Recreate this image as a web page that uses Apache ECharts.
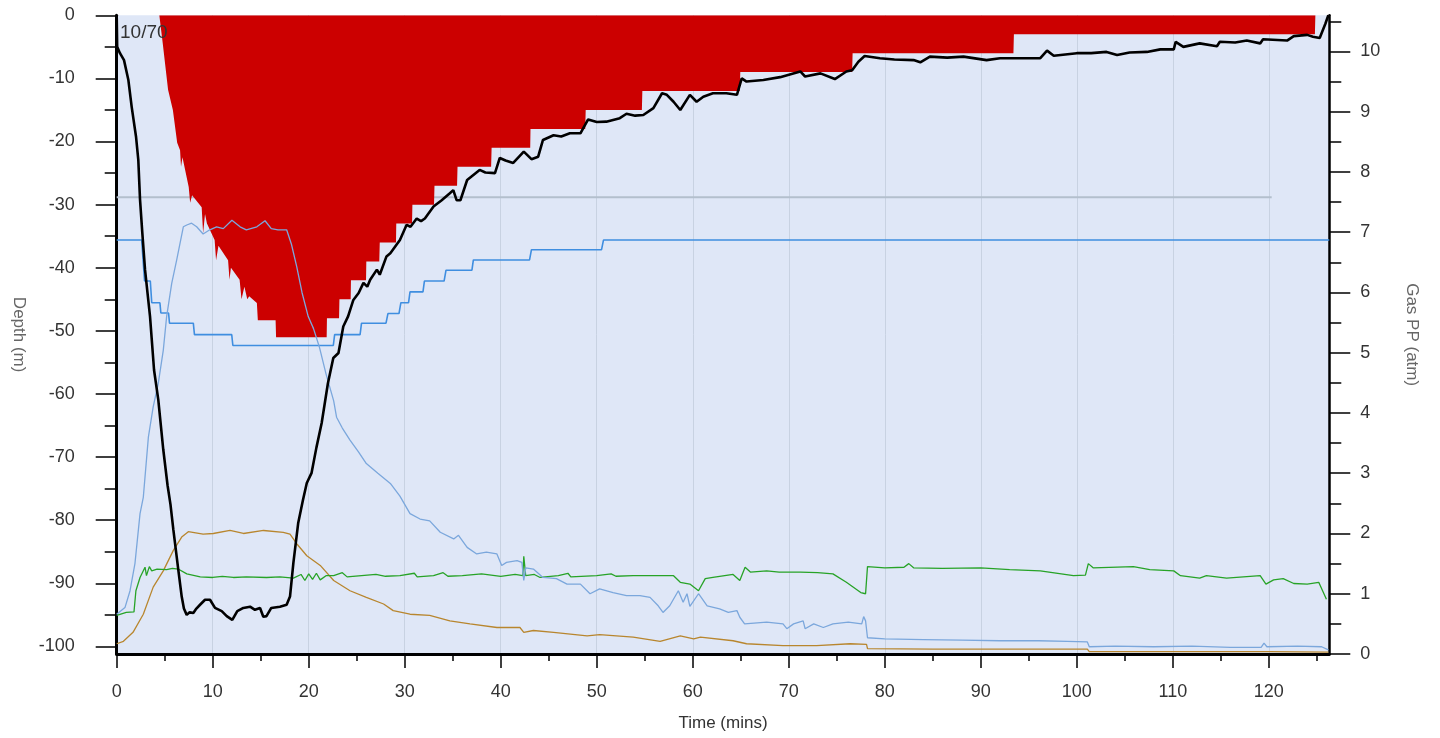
<!DOCTYPE html>
<html>
<head>
<meta charset="utf-8">
<script src="https://cdn.jsdelivr.net/npm/echarts@6/dist/echarts.min.js"></script>
<style>
html,body{margin:0;padding:0;background:#fff;}
#chart{width:1440px;height:738px;}
</style>
</head>
<body>
<div id="chart"></div>
<script>
// ---------- data (time in minutes) ----------
var depthData = [[0,0],[0.05,-5.0],[0.34,-6.0],[0.76,-7.1],[1.21,-10.2],[1.56,-14.5],[2.01,-19.2],[2.25,-22.9],[2.43,-29.2],[2.67,-34.5],[2.95,-40.3],[3.47,-47.7],[3.89,-56.2],[4.33,-60.9],[4.85,-68.8],[5.3,-74.5],[5.6,-77.5],[5.9,-81.5],[6.42,-87.9],[6.77,-92.1],[7.0,-94.0],[7.29,-95],[7.6,-94.6],[7.98,-94.7],[8.3,-94.0],[8.68,-93.4],[9.2,-92.6],[9.72,-92.6],[10.24,-93.9],[10.94,-94.4],[11.46,-95.2],[12.04,-95.8],[12.56,-94.4],[13.19,-93.9],[13.89,-93.7],[14.4,-94.2],[14.93,-93.9],[15.27,-95.3],[15.6,-95.2],[16.1,-93.9],[17.0,-93.7],[17.7,-93.4],[18.05,-92.1],[18.4,-86.8],[18.9,-80.5],[19.4,-76.8],[19.8,-74.1],[20.3,-72.5],[20.8,-68.5],[21.35,-64.6],[22.0,-58.3],[22.56,-54.3],[23.1,-53.5],[23.6,-49.3],[24.1,-47.7],[24.65,-45.1],[25.2,-44.0],[25.7,-42.4],[26.1,-43],[26.4,-41.9],[27.1,-40.3],[27.4,-41.1],[28.1,-38.2],[28.5,-37.7],[29.5,-35.6],[30.2,-33.2],[30.6,-33.5],[31.25,-32.2],[31.7,-32.6],[32.1,-32.2],[33,-30.3],[33.85,-29.3],[34.7,-28.2],[35.06,-27.7],[35.4,-29.3],[35.8,-29.3],[36.5,-26.1],[37.8,-24.5],[38.4,-24.9],[39.4,-25.0],[39.9,-22.6],[40.5,-23.0],[41.3,-23.4],[42.4,-21.6],[43.2,-22.8],[43.9,-22.4],[44.4,-19.75],[45.5,-19.0],[46.3,-19.2],[47.2,-18.7],[48.3,-18.7],[49.1,-16.5],[50.0,-16.9],[51.0,-16.85],[52.4,-16.3],[53.1,-15.6],[54.0,-15.9],[54.85,-15.8],[55.9,-14.7],[56.8,-12.35],[57.3,-12.6],[58.0,-13.7],[58.7,-15.0],[59.7,-12.6],[60.4,-13.7],[61.1,-12.9],[62.1,-12.35],[63.5,-12.35],[64.6,-12.6],[65.1,-10.0],[65.6,-10.5],[67.35,-10.25],[69.1,-9.8],[71.2,-8.9],[71.7,-9.7],[73.3,-9.2],[74.8,-10.1],[76.0,-8.9],[76.6,-8.7],[77.25,-7.35],[77.9,-6.45],[79.5,-6.8],[81,-7.0],[83,-7.1],[83.7,-7.45],[84.7,-6.55],[86.5,-6.7],[88.2,-6.55],[90.6,-7.1],[92,-6.8],[93.4,-6.8],[96.2,-6.8],[96.9,-5.6],[97.6,-6.4],[100,-6.0],[101.5,-6.0],[103.1,-5.8],[104.2,-6.3],[105.5,-5.9],[107.3,-5.8],[108.7,-5.4],[110.1,-5.4],[110.3,-4.2],[111.1,-5.0],[112.8,-4.45],[114.6,-4.9],[114.9,-4.2],[116.5,-4.3],[117.7,-4.0],[119.1,-4.45],[119.4,-3.8],[121.9,-4.0],[122.6,-3.3],[124.0,-3.1],[124.6,-3.4],[125.3,-3.6],[125.9,-1.3],[126.2,0]];

var ceilingData = [[0,0],[4.44,0],[4.8,-4.5],[5.35,-11.8],[5.85,-15],[6.3,-20.2],[6.6,-21.4],[6.7,-24],[6.85,-22.5],[7.5,-27.2],[7.65,-29.7],[7.85,-28.5],[8.85,-30.4],[9.0,-34.5],[9.2,-31.5],[9.4,-33],[10.2,-35.6],[10.35,-38.8],[10.6,-36.5],[11.6,-38.8],[11.75,-41.9],[11.9,-40],[12.8,-41.9],[13.0,-45],[13.3,-43],[13.6,-45],[13.8,-44.5],[14.6,-45.6],[14.7,-48.3],[16.55,-48.3],[16.6,-51],[21.87,-51],[21.9,-48],[23.16,-48],[23.2,-45],[24.37,-45],[24.4,-42],[25.97,-42],[26.0,-39],[27.35,-39],[27.4,-36],[29.09,-36],[29.12,-33],[30.76,-33],[30.8,-30],[33.05,-30],[33.1,-27],[35.45,-27],[35.5,-24],[39.0,-24],[39.05,-21],[43.07,-21],[43.1,-18],[48.8,-18],[48.85,-15],[54.7,-15],[54.75,-12],[64.9,-12],[64.95,-9],[76.6,-9],[76.65,-6],[93.4,-6],[93.45,-3],[124.8,-3],[124.85,0],[126.3,0]];

var ppLightBlue = [[0,0.66],[0.86,0.77],[1.39,1.05],[1.9,1.5],[2.43,2.33],[2.77,2.6],[3.3,3.6],[3.8,4.1],[4.33,4.49],[4.85,5.04],[5.2,5.6],[5.73,6.15],[6.25,6.54],[6.6,6.82],[6.94,7.09],[7.3,7.12],[7.8,7.15],[8.33,7.09],[9.0,6.97],[9.7,7.04],[10.4,7.09],[11.1,7.06],[12.0,7.2],[12.85,7.09],[13.5,7.04],[14.6,7.09],[15.45,7.19],[16.1,7.06],[16.8,7.04],[17.7,7.04],[18.2,6.8],[18.75,6.43],[19.3,6.0],[19.95,5.6],[20.5,5.4],[21.1,5.1],[21.8,4.65],[22.6,4.2],[22.9,3.93],[23.5,3.75],[24.3,3.55],[25.2,3.35],[26.0,3.16],[27.2,3.0],[28.5,2.83],[29.5,2.62],[30.55,2.33],[31.6,2.24],[32.6,2.21],[33.7,2.02],[35.1,1.91],[35.6,1.97],[36.5,1.77],[37.5,1.66],[38.5,1.69],[39.6,1.66],[40.1,1.47],[40.6,1.52],[41.7,1.55],[42.2,1.52],[42.4,1.22],[42.6,1.43],[43.4,1.41],[44.4,1.27],[45.8,1.25],[46.9,1.16],[48.3,1.16],[49.3,1.0],[50.3,1.08],[51.7,1.02],[53.1,0.97],[54.5,0.97],[55.55,0.94],[56.4,0.8],[56.9,0.69],[57.6,0.8],[58.5,1.05],[59.0,0.86],[59.4,1.0],[59.7,0.79],[60.6,1.0],[61.5,0.8],[62.8,0.75],[63.7,0.69],[64.6,0.72],[64.9,0.61],[65.4,0.5],[67.7,0.53],[69.4,0.5],[69.8,0.42],[70.5,0.5],[71.5,0.55],[71.7,0.42],[72.6,0.5],[73.6,0.44],[74.6,0.5],[76.2,0.53],[77.6,0.5],[77.8,0.62],[78.0,0.55],[78.2,0.27],[80,0.25],[84,0.24],[88,0.23],[92,0.22],[96,0.22],[99,0.21],[101.1,0.2],[101.3,0.12],[104,0.13],[108,0.12],[112,0.13],[116,0.11],[119.2,0.11],[119.5,0.18],[119.8,0.12],[123,0.13],[125.5,0.12],[126.2,0.07]];

var ppGreen = [[0,0.64],[1.0,0.69],[1.8,0.7],[2.0,1.05],[2.43,1.27],[2.95,1.44],[3.1,1.3],[3.4,1.45],[3.65,1.38],[4.2,1.41],[5.2,1.4],[5.8,1.42],[6.4,1.41],[7.3,1.33],[8.7,1.28],[10,1.27],[11,1.29],[12.15,1.27],[13.5,1.28],[15.6,1.27],[17,1.28],[18.4,1.26],[19.2,1.32],[19.6,1.22],[20.0,1.33],[20.4,1.24],[20.8,1.34],[21.2,1.23],[21.8,1.3],[22.6,1.30],[23.5,1.35],[24.0,1.28],[25.5,1.30],[27,1.32],[28,1.29],[29.5,1.30],[31,1.34],[31.3,1.28],[33,1.30],[34,1.35],[34.5,1.29],[36,1.3],[38,1.33],[40,1.29],[41.5,1.32],[42.3,1.3],[42.4,1.62],[42.6,1.3],[43.5,1.32],[44.1,1.27],[46,1.30],[47,1.34],[47.3,1.28],[50,1.30],[51.5,1.33],[52,1.29],[53.8,1.3],[56,1.3],[58,1.3],[58.7,1.19],[59.7,1.16],[60.6,1.05],[61.3,1.25],[62.1,1.27],[64.2,1.32],[64.9,1.22],[65.45,1.44],[66,1.36],[67.7,1.38],[69,1.36],[71.2,1.36],[73,1.35],[74.6,1.33],[76.0,1.19],[77.5,1.02],[78.0,1.0],[78.2,1.45],[80,1.43],[82,1.44],[82.5,1.5],[83,1.43],[86,1.42],[90,1.43],[93,1.40],[96.2,1.38],[99.65,1.3],[100.9,1.31],[101.2,1.5],[101.7,1.43],[105.9,1.45],[107.6,1.4],[110.1,1.38],[110.8,1.30],[112.8,1.26],[113.5,1.30],[115.6,1.26],[119.1,1.30],[119.7,1.16],[120.5,1.23],[121.5,1.25],[122.6,1.17],[124.0,1.16],[125.2,1.19],[126.0,0.91]];

var ppBrown = [[0,0.17],[0.7,0.21],[1.7,0.36],[2.77,0.66],[3.8,1.11],[4.85,1.38],[5.9,1.72],[6.77,1.94],[7.46,2.03],[9.0,1.99],[10.06,2.0],[11.8,2.05],[13.2,2.0],[15.3,2.05],[17.35,2.02],[18.05,1.99],[18.75,1.83],[19.8,1.63],[21.2,1.47],[22.6,1.22],[24.3,1.05],[26.0,0.94],[27.8,0.83],[28.8,0.72],[30.55,0.66],[32.6,0.64],[34.7,0.55],[36.8,0.5],[39.6,0.44],[42,0.44],[42.4,0.36],[43.4,0.39],[45.5,0.36],[49,0.3],[50.3,0.32],[53.8,0.28],[56.6,0.21],[58.7,0.3],[60.1,0.25],[60.8,0.28],[64.2,0.22],[65.6,0.17],[69.4,0.14],[72.9,0.14],[76.4,0.17],[78.1,0.16],[78.2,0.09],[85,0.08],[95,0.08],[101.1,0.08],[101.3,0.04],[110,0.04],[120,0.04],[126.2,0.03]];

var ppStep = [[0,6.87],[2.6,6.87],[2.9,6.19],[3.5,6.19],[3.65,5.83],[4.5,5.83],[4.6,5.66],[5.4,5.66],[5.5,5.49],[7.98,5.49],[8.1,5.30],[11.98,5.30],[12.1,5.12],[22.56,5.12],[22.7,5.30],[25.35,5.30],[25.5,5.49],[28.05,5.49],[28.25,5.65],[29.4,5.65],[29.6,5.83],[30.4,5.83],[30.55,6.01],[31.9,6.01],[32.05,6.19],[34.1,6.19],[34.3,6.37],[37.0,6.37],[37.15,6.54],[43.0,6.54],[43.2,6.71],[50.5,6.71],[50.7,6.87],[126.3,6.87]];

var refLine = [[0,7.58],[120.3,7.58]];

// ---------- ticks ----------
var timeTicks = [0,10,20,30,40,50,60,70,80,90,100,110,120];
var timeMinorTicks = [5,15,25,35,45,55,65,75,85,95,105,115,125];
var depthTicks = [-100,-90,-80,-70,-60,-50,-40,-30,-20,-10,0];
var depthMinorTicks = [-95,-85,-75,-65,-55,-45,-35,-25,-15,-5];
var gasTicks = [0,1,2,3,4,5,6,7,8,9,10];
var gasMinorTicks = [0.5,1.5,2.5,3.5,4.5,5.5,6.5,7.5,8.5,9.5,10.5];

var FONT = 'Liberation Sans, Arial, sans-serif';
var TMAX = 126.3, DMIN = -101.2, GMAX = 10.6;

var chart = echarts.init(document.getElementById('chart'), null, {renderer: 'canvas'});

function lineSeries(name, data, yIdx, color, width, z) {
  return {
    name: name, type: 'line', data: data, xAxisIndex: 0, yAxisIndex: yIdx,
    showSymbol: false, symbol: 'none', silent: true, z: z,
    lineStyle: {color: color, width: width}
  };
}
var gridRect = {left: 116.7, right: 110.7, top: 15.3, bottom: 84, containLabel: false, outerBoundsMode: 'none'};
function minorAxis(base, extra) {
  var a = {
    type: 'value', gridIndex: 1,
    axisLine: {show: false, onZero: false},
    axisLabel: {show: false}, splitLine: {show: false}
  };
  for (var k in base) a[k] = base[k];
  a.axisTick = {show: true, length: extra.length, customValues: extra.values, lineStyle: {color: '#000', width: 1.5}};
  return a;
}

var option = {
  animation: false,
  textStyle: {fontFamily: FONT},
  title: {
    text: '10/70', left: 120, top: 23, padding: 0,
    textStyle: {fontFamily: FONT, fontSize: 19, fontWeight: 'normal', color: '#333'}
  },
  grid: [
    Object.assign({show: true, backgroundColor: '#dfe7f7', borderWidth: 0}, gridRect),
    Object.assign({show: false}, gridRect)
  ],
  xAxis: [
    {
      type: 'value', gridIndex: 0, position: 'bottom', min: 0, max: TMAX, interval: 10,
      name: 'Time (mins)', nameLocation: 'middle', nameGap: 61,
      nameTextStyle: {fontFamily: FONT, fontSize: 17, color: '#333'},
      axisLine: {show: true, onZero: false, lineStyle: {color: '#000', width: 3}},
      axisTick: {show: true, length: 14, customValues: timeTicks, lineStyle: {color: '#000', width: 1.5}},
      axisLabel: {show: true, customValues: timeTicks, margin: 29, fontSize: 18, color: '#333', fontFamily: FONT},
      splitLine: {show: true, lineStyle: {color: '#c8d2e2', width: 1}}
    },
    minorAxis({position: 'bottom', min: 0, max: TMAX}, {length: 7, values: timeMinorTicks})
  ],
  yAxis: [
    {
      type: 'value', gridIndex: 0, position: 'left', min: DMIN, max: 0,
      name: 'Depth (m)', nameLocation: 'middle', nameGap: 90, nameRotate: -90,
      nameTextStyle: {fontFamily: FONT, fontSize: 17, color: '#666'},
      axisLine: {show: true, onZero: false, lineStyle: {color: '#000', width: 3}},
      axisTick: {show: true, length: 21, customValues: depthTicks, lineStyle: {color: '#000', width: 1.5}},
      axisLabel: {show: true, customValues: depthTicks, margin: 42, fontSize: 18, color: '#333', fontFamily: FONT},
      splitLine: {show: false}
    },
    {
      type: 'value', gridIndex: 0, position: 'right', min: 0, max: GMAX,
      name: 'Gas PP (atm)', nameLocation: 'middle', nameGap: 74, nameRotate: -90,
      nameTextStyle: {fontFamily: FONT, fontSize: 17, color: '#666'},
      axisLine: {show: true, onZero: false, lineStyle: {color: '#000', width: 2.5}},
      axisTick: {show: true, length: 21, customValues: gasTicks, lineStyle: {color: '#000', width: 1.5}},
      axisLabel: {show: true, customValues: gasTicks, margin: 31, fontSize: 18, color: '#333', fontFamily: FONT},
      splitLine: {show: false}
    },
    minorAxis({position: 'left', min: DMIN, max: 0}, {length: 12, values: depthMinorTicks}),
    minorAxis({position: 'right', min: 0, max: GMAX}, {length: 12, values: gasMinorTicks})
  ],
  series: [
    lineSeries('Reference', refLine, 1, '#b3bfcd', 2, 1),
    {
      name: 'Ceiling', type: 'line', data: ceilingData, xAxisIndex: 0, yAxisIndex: 0,
      showSymbol: false, symbol: 'none', silent: true, z: 2,
      lineStyle: {width: 0, color: '#cc0000'},
      areaStyle: {color: '#cc0000', opacity: 1, origin: 'end'}
    },
    lineSeries('Step', ppStep, 1, '#3f8ee0', 1.6, 3),
    lineSeries('Brown', ppBrown, 1, '#b8862e', 1.3, 4),
    lineSeries('Green', ppGreen, 1, '#27a327', 1.3, 5),
    lineSeries('LightBlue', ppLightBlue, 1, '#7ba7dc', 1.3, 6),
    lineSeries('Depth', depthData, 0, '#000000', 2.6, 10)
  ]
};
chart.setOption(option);
</script>
</body>
</html>
